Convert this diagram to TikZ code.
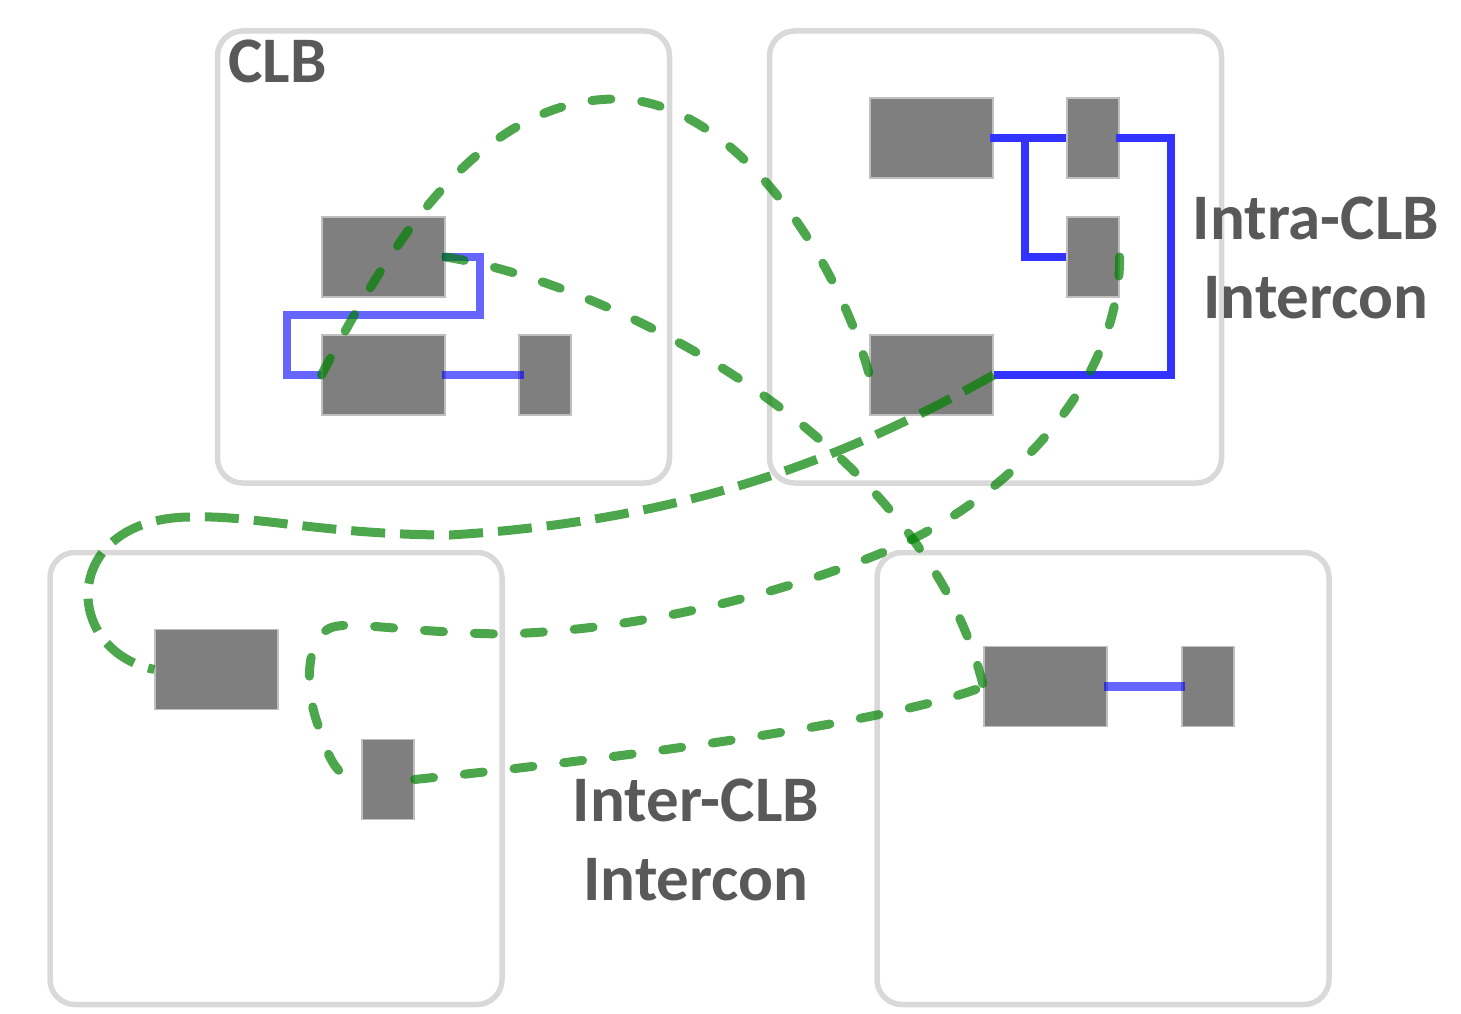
\documentclass[tikz,border=0pt]{standalone}
\usepackage{fontspec}
\setmainfont{Carlito}
\usepackage{xcolor}
\usepackage{tikz}
\usetikzlibrary{positioning,calc}

\definecolor{framegray}{HTML}{D9D9D9}
\definecolor{blkgray}{HTML}{7F7F7F}
\definecolor{edgegray}{HTML}{BFBFBF}
\definecolor{txtgray}{HTML}{595959}
\definecolor{netgreen}{HTML}{008000}

\tikzset{
    clb/.style={draw=framegray, line width=5.5pt, rounded corners=25pt, minimum width=452pt, minimum height=452pt, inner sep=0pt},
    lut/.style={fill=blkgray, draw=edgegray, line width=1.2pt, minimum width=123pt, minimum height=80pt, inner sep=0pt},
    ff/.style={lut, minimum width=52pt},
    intra/.style={blue, opacity=0.6, line width=8.5pt},
    intradark/.style={blue!80, line width=8.5pt},
    inter/.style={netgreen, opacity=0.7, line width=9pt, line cap=round, dash pattern=on 19pt off 31pt},
    interflat/.style={netgreen, opacity=0.7, line width=9pt, dash pattern=on 34pt off 15pt},
    lbl/.style={text=txtgray, font=\bfseries\fontsize{65}{79}\selectfont, inner sep=0pt, align=center}
}

\begin{document}
\begin{tikzpicture}[x=1pt, y=-1pt]
    \useasboundingbox (0,0) rectangle (1461,1014);

    % CLBs
    \node[clb] (clbA) at (443.5,257) {};
    \node[clb] (clbB) at (995.5,257) {};
    \node[clb] (clbC) at (276,778.5) {};
    \node[clb] (clbD) at (1103,778.5) {};

    % Blocks
    \node[lut] (a1) at (383.5,257) {};
    \node[lut] (a2) at (383.5,375) {};
    \node[ff] (a3) at (545,375) {};
    \node[lut] (b1) at (931.5,138) {};
    \node[ff] (b2) at (1093,138) {};
    \node[ff] (b3) at (1093,257) {};
    \node[lut] (b4) at (931.5,375) {};
    \node[lut] (c1) at (216.5,669.5) {};
    \node[ff] (c2) at (388,779.5) {};
    \node[lut] (d1) at (1045.5,686.5) {};
    \node[ff] (d2) at (1208,686.5) {};

    % Intra-CLB wires
    \draw[intra] ([xshift=-4pt]a1.east) -| (480,315) -| (287,375) -- (a2.west);
    \draw[intra] ([xshift=-4pt]a2.east) -- ([xshift=6pt]a3.west);
    \draw[intradark] ([xshift=-4pt]b1.east) -- (b2.west);
    \draw[intradark] ([xshift=-4pt]b2.east) -| (1171,375) -- (b4.east);
    \draw[intradark] (1025,138) |- (b3.west);
    \draw[intra] ([xshift=-4pt]d1.east) -- ([xshift=4pt]d2.west);

    % Inter-CLB wires
    \draw[inter] (a2.west) .. controls (380,265) and (470,100) .. (615,99)
        .. controls (730,98) and (835,250) .. (b4.west);
    \draw[inter] (a1.east) .. controls (620,285) and (925,445) .. (d1.west);
    \draw[inter] (b3.east) .. controls (1120,390) and (1000,500) .. (900,545)
        .. controls (845,570) and (680,630) .. (500,634)
        .. controls (400,632) and (350,620) .. (330,628)
        .. controls (305,640) and (305,690) .. (318,725)
        .. controls (328,760) and (340,782) .. (c2.west);
    \draw[interflat] (b4.east) .. controls (860,450) and (700,520) .. (450,535)
        .. controls (330,535) and (250,515) .. (195,517)
        .. controls (60,515) and (60,650) .. (c1.west);
    \draw[inter] (c2.east) .. controls (650,755) and (900,720) .. (d1.west);

    % Labels
    \node[lbl, anchor=base west] (clblbl) at (228,83) {CLB};
    \node[lbl, anchor=base] (intralbl) at (1316,318) {Intra-CLB\\Intercon};
    \node[lbl, anchor=base] (interlbl) at (696,900) {Inter-CLB\\Intercon};
\end{tikzpicture}
\end{document}
